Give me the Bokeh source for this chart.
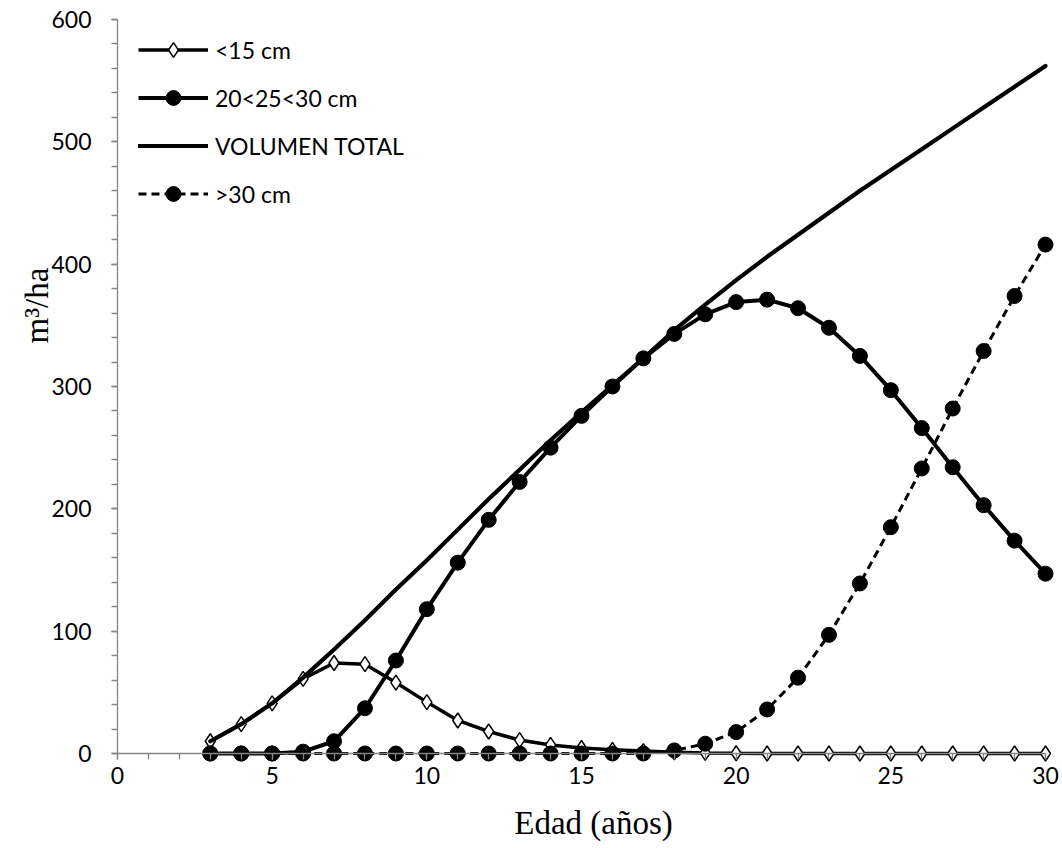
import math
from bokeh.plotting import figure
from bokeh.models import (Range1d, LinearAxis, SingleIntervalTicker, Legend, LegendItem, Label)
from bokeh.embed import file_html
from bokeh.resources import INLINE

# ---- data ----
edad = list(range(3, 31))
menor15 = [10, 24, 41, 61, 74, 73, 58, 42, 27, 18, 11, 7, 4.5, 3, 2, 1, 0.5, 0.2,
           0, 0, 0, 0, 0, 0, 0, 0, 0, 0]
d20_30 = [0, 0, 0, 1.5, 10, 37, 76, 118, 156, 191, 222, 250, 276, 300, 323, 343,
          359, 369, 371, 364, 348, 325, 297, 266, 234, 203, 174, 147]
total = [10, 24, 41, 62, 85, 109, 134, 158, 183, 208, 232, 256, 279, 301, 323, 346,
         367, 387, 406, 424, 442, 460, 477, 494, 511, 528, 545, 562]
mayor30 = [0] * 15 + [2.5, 8, 17.5, 36, 62, 97, 139, 185, 233, 282, 329, 374, 416]

x_ticks_interval = 5
y_ticks_interval = 100
legend_labels = ["<15 cm", "20<25<30 cm", "VOLUMEN TOTAL", ">30 cm"]
x_title = "Edad (años)"
y_title = "m³/ha"

AX = "#868686"
TICK_FONT = "Lato"

p = figure(width=1062, height=848, output_backend="svg", toolbar_location=None,
           x_axis_type=None, y_axis_type=None,
           x_range=Range1d(-3.7823, 30.5496), y_range=Range1d(-77.657, 615.531),
           min_border_left=0, min_border_right=0, min_border_top=0, min_border_bottom=0)
p.outline_line_color = None
p.xgrid.visible = False
p.ygrid.visible = False
p.background_fill_color = "white"
p.border_fill_color = "white"

xaxis = LinearAxis(fixed_location=0, bounds=(0, 30),
                   ticker=SingleIntervalTicker(interval=x_ticks_interval, num_minor_ticks=5))
yaxis = LinearAxis(fixed_location=0, bounds=(0, 600),
                   ticker=SingleIntervalTicker(interval=y_ticks_interval, num_minor_ticks=5))
for ax in (xaxis, yaxis):
    ax.axis_line_color = AX
    ax.axis_line_width = 1.3
    ax.major_tick_line_color = AX
    ax.minor_tick_line_color = AX
    ax.major_tick_line_width = 1.3
    ax.minor_tick_line_width = 1.3
    ax.major_tick_in = 0
    ax.minor_tick_in = 0
    ax.major_tick_out = 6
    ax.minor_tick_out = 6
    ax.major_label_text_font = TICK_FONT
    ax.major_label_text_font_size = "23px"
    ax.major_label_text_color = "black"
xaxis.major_label_standoff = 8
yaxis.major_label_standoff = 20
p.add_layout(xaxis, "below")
p.add_layout(yaxis, "left")

# axis titles (screen positioned, like the free-placed titles of the original)
p.add_layout(Label(x=593, y=848 - 822, x_units="screen", y_units="screen", text=x_title,
                   text_font="Liberation Serif", text_font_size="33px", text_color="black",
                   text_align="center", text_baseline="middle"))
p.add_layout(Label(x=36, y=848 - 305, x_units="screen", y_units="screen", text=y_title,
                   angle=math.pi / 2, text_font="Liberation Serif", text_font_size="33px",
                   text_color="black", text_align="center", text_baseline="middle"))

# series
l1 = p.line(edad, menor15, line_color="black", line_width=3.5)
s1 = p.scatter(edad, menor15, marker="diamond", size=15, fill_color="white",
               line_color="black", line_width=1.5)
l2 = p.line(edad, d20_30, line_color="black", line_width=4)
s2 = p.scatter(edad, d20_30, marker="circle", size=15, fill_color="black", line_color="black")
l3 = p.line(edad, total, line_color="black", line_width=4.2, line_cap="round", line_join="round")
l4 = p.line(edad, mayor30, line_color="black", line_width=3, line_dash="8 5")
s4 = p.scatter(edad, mayor30, marker="circle", size=15, fill_color="black", line_color="black")

legend = Legend(items=[
    LegendItem(label=legend_labels[0], renderers=[l1, s1]),
    LegendItem(label=legend_labels[1], renderers=[l2, s2]),
    LegendItem(label=legend_labels[2], renderers=[l3]),
    LegendItem(label=legend_labels[3], renderers=[l4, s4]),
], location=(138, 636))
legend.glyph_width = 70
legend.glyph_height = 37
legend.label_height = 27
legend.spacing = 11
legend.label_standoff = 7
legend.padding = 0
legend.margin = 0
legend.border_line_color = None
legend.background_fill_alpha = 0
legend.label_text_font = TICK_FONT
legend.label_text_font_size = "23px"
legend.label_text_color = "black"
p.add_layout(legend, "center")

open("out.html", "w").write(file_html(p, INLINE))
